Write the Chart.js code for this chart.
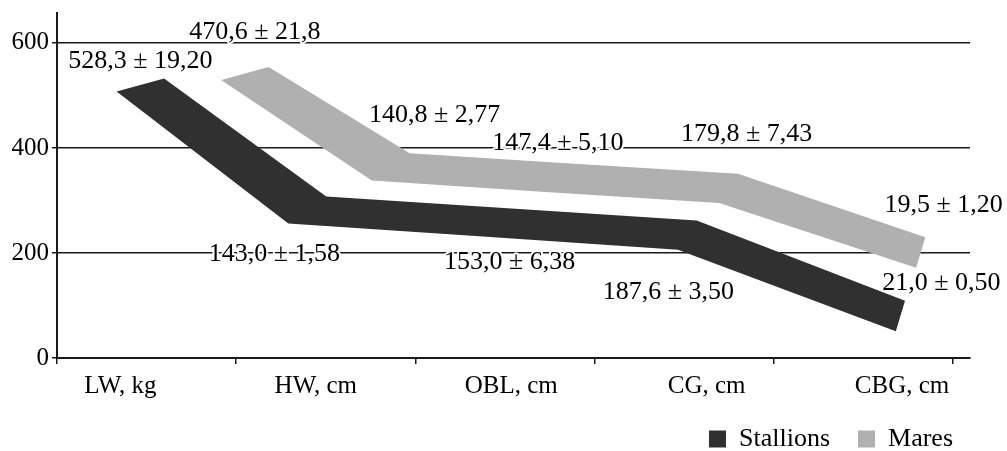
<!DOCTYPE html>
<html>
<head>
<meta charset="utf-8">
<script src="https://cdn.jsdelivr.net/npm/chart.js"></script>
<style>
  html, body { margin: 0; padding: 0; background: #ffffff; }
  #chart { display: block; }
</style>
</head>
<body>
<canvas id="chart" width="1007" height="451"></canvas>
<script>
// ---- data ---------------------------------------------------------------
const categories = ['LW, kg', 'HW, cm', 'OBL, cm', 'CG, cm', 'CBG, cm'];
const seriesNames = ['Stallions', 'Mares'];

// level of each ribbon's mid-line on the value axis
const stallionsLevel = [520, 282, 259, 234, 80];
const maresLevel = [542, 364, 344, 323, 201];

// mean ± error printed beside the ribbons
const stallionsMean = [528.3, 143.0, 153.0, 187.6, 21.0];
const stallionsErr = ['19,20', '1,58', '6,38', '3,50', '0,50'];
const maresMean = [470.6, 140.8, 147.4, 179.8, 19.5];
const maresErr = ['21,8', '2,77', '5,10', '7,43', '1,20'];

const yTicks = [0, 200, 400, 600];

// ---- 3-D ribbon geometry --------------------------------------------------
// floor of the view: categories spread a little wider towards the right
function floorX(c) { return -0.1674 + 0.9152 * c + 0.04297 * c * c; }
// depth direction at category c (x in category units, y in value units)
function depthX(c) { return 0.2651 - 0.0534 * c; }
function depthY(c) { return 24.8 + 26.7 * Math.min(c, 1) + 2.1 * Math.max(c - 1, 0); }
const rowDepth = [0.5, 2.7];   // front ribbon, back ribbon

function ribbon(levels, row) {
  const z = rowDepth[row];
  const mid = levels.map((v, c) => ({ x: floorX(c) + z * depthX(c), y: v }));
  const front = mid.map((p, c) => ({ x: p.x - depthX(c) / 2, y: p.y - depthY(c) / 2 }));
  const back = mid.map((p, c) => ({ x: p.x + depthX(c) / 2, y: p.y + depthY(c) / 2 }));
  const n = levels.length - 1;
  return {
    mid,
    upper: [front[0], ...back],      // left cap, then the far edge
    lower: [...front, back[n]]       // near edge, then the right cap
  };
}

const ribbons = [ribbon(stallionsLevel, 0), ribbon(maresLevel, 1)];
const colors = ['#303030', '#afb0af'];

const datasets = [];
ribbons.forEach((r, i) => {
  const common = {
    backgroundColor: colors[i], borderColor: colors[i], borderWidth: 0,
    pointRadius: 0, pointHoverRadius: 0, tension: 0, xAxisID: 'x', yAxisID: 'y'
  };
  datasets.push(Object.assign({ label: seriesNames[i], data: r.upper, fill: '+1' }, common));
  datasets.push(Object.assign({ label: seriesNames[i] + ' edge', data: r.lower, fill: false }, common));
});

// ---- value labels ----------------------------------------------------------
const labelSets = [
  { mean: stallionsMean, err: stallionsErr,
    offsets: [[0, -24], [-33, 44], [20, 40], [-19, 57], [41, -33]] },
  { mean: maresMean, err: maresErr,
    offsets: [[10, -41], [44, -52], [6, -34], [18, -54], [23, -47]] }
];
const fmt = v => v.toFixed(1).replace('.', ',');

const valueLabels = {
  id: 'valueLabels',
  afterDatasetsDraw(chart) {
    const { ctx, scales: { x, y } } = chart;
    ctx.save();
    ctx.font = '26px "Liberation Serif", "Times New Roman", serif';
    ctx.textAlign = 'center';
    ctx.textBaseline = 'middle';
    ctx.lineJoin = 'round';
    labelSets.forEach((set, row) => {
      ribbons[row].mid.forEach((p, c) => {
        const px = x.getPixelForValue(p.x) + set.offsets[c][0];
        const py = y.getPixelForValue(p.y) + set.offsets[c][1];
        const text = fmt(set.mean[c]) + ' ± ' + set.err[c];
        ctx.lineWidth = 4;
        ctx.strokeStyle = '#ffffff';
        ctx.strokeText(text, px, py);
        ctx.fillStyle = '#000000';
        ctx.fillText(text, px, py);
      });
    });
    ctx.restore();
  }
};

// legend sits slightly right of the plot edge; its box grows upwards a little
const legendShift = {
  id: 'legendShift',
  afterLayout(chart) {
    const lg = chart.legend;
    if (lg) { lg.left += 11; lg.right += 11; lg.top -= 6; lg.height += 6; }
  }
};

const noPad = s => { s.paddingLeft = 0; s.paddingRight = 0; s.paddingTop = 0; s.paddingBottom = 0; };
const lineColor = '#1a1a1a';

Chart.defaults.font.family = '"Liberation Serif", "Times New Roman", serif';
Chart.defaults.color = '#000000';

new Chart(document.getElementById('chart'), {
  type: 'line',
  data: { datasets },
  plugins: [valueLabels, legendShift],
  options: {
    responsive: false,
    devicePixelRatio: 1,
    animation: false,
    events: [],
    layout: { padding: { top: 13, right: 37, left: 0, bottom: 0 } },
    scales: {
      x: {
        type: 'linear', position: 'bottom', weight: 0,
        min: -0.5, max: 4.595,
        afterBuildTicks: s => { s.ticks = [-0.5, 0.5, 1.5, 2.5, 3.5, 4.5].map(v => ({ value: v })); },
        afterFit: s => { s.height = 6; noPad(s); },
        grid: { drawOnChartArea: false, drawTicks: true, tickLength: 6, color: lineColor, lineWidth: 1.5 },
        border: { display: true, color: lineColor, width: 2 },
        ticks: { display: false }
      },
      xl: {
        type: 'linear', position: 'bottom', weight: 1,
        min: -0.3245, max: 4.348,
        afterBuildTicks: s => { s.ticks = categories.map((_, i) => ({ value: i })); },
        afterFit: s => { s.height = 40; noPad(s); },
        grid: { display: false },
        border: { display: false },
        ticks: {
          padding: -1, color: '#000000', font: { size: 25 }, autoSkip: false, maxRotation: 0,
          callback: v => categories[v]
        }
      },
      y: {
        type: 'linear', min: 0, max: 657,
        afterBuildTicks: s => { s.ticks = yTicks.map(v => ({ value: v })); },
        afterFit: s => { s.width = 57; noPad(s); },
        grid: { color: lineColor, lineWidth: 1.5, drawTicks: true, tickLength: 5 },
        border: { display: true, color: lineColor, width: 2 },
        ticks: { padding: 3, color: '#000000', font: { size: 25 } }
      }
    },
    plugins: {
      tooltip: { enabled: false },
      legend: {
        position: 'bottom', align: 'end', maxHeight: 47,
        labels: {
          boxWidth: 17, boxHeight: 17, padding: 28, color: '#000000', font: { size: 26 },
          filter: item => item.datasetIndex % 2 === 0
        }
      }
    }
  }
});
</script>
</body>
</html>
